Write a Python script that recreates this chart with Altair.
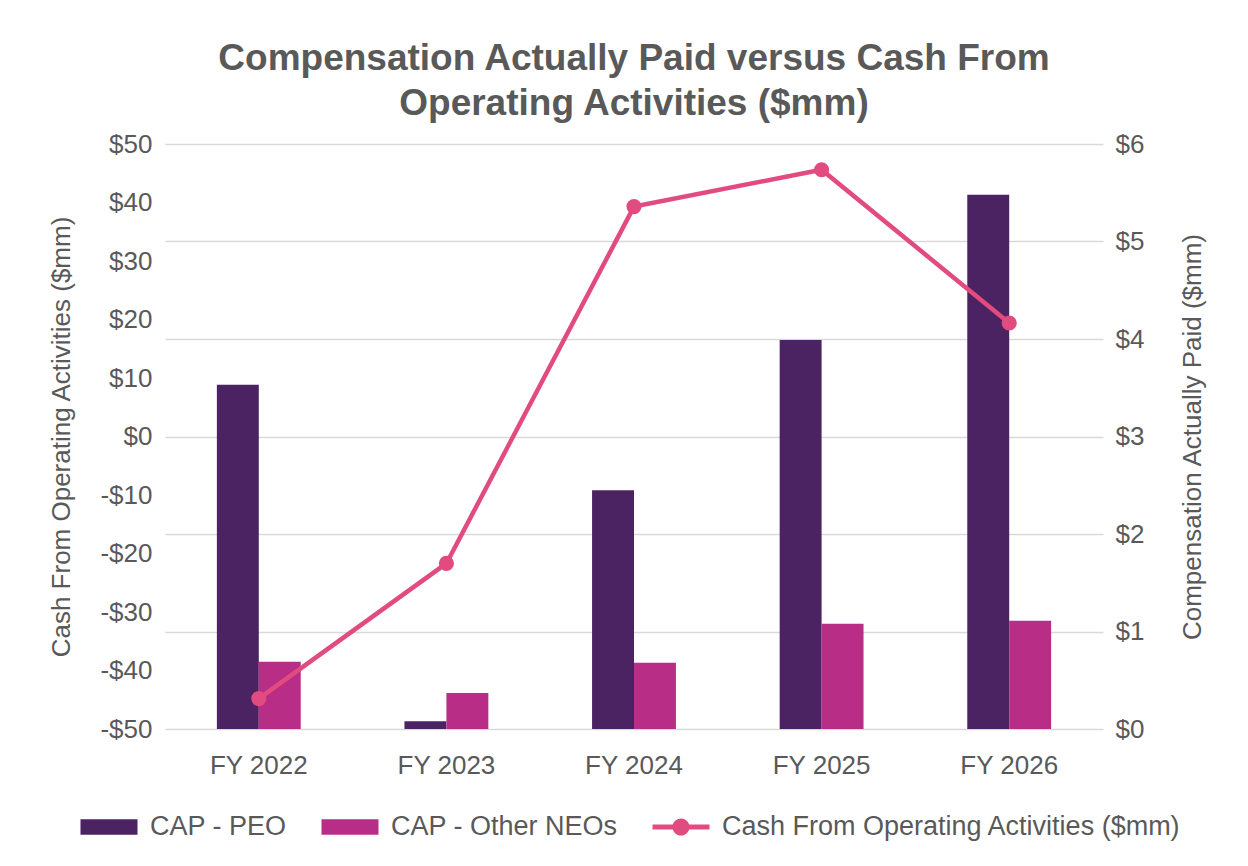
import altair as alt
import pandas as pd

years = ["FY 2022", "FY 2023", "FY 2024", "FY 2025", "FY 2026"]
cap_peo = [3.53, 0.08, 2.45, 3.99, 5.48]
cap_neo = [0.69, 0.37, 0.68, 1.08, 1.11]
cash = [-44.8, -21.7, 39.3, 45.6, 19.4]

series = ["CAP - PEO", "CAP - Other NEOs", "Cash From Operating Activities ($mm)"]
colors = ["#4B2363", "#B82E86", "#E24B7F"]

bars_df = pd.DataFrame(
    [{"year": y, "series": series[0], "value": v} for y, v in zip(years, cap_peo)]
    + [{"year": y, "series": series[1], "value": v} for y, v in zip(years, cap_neo)]
)
line_df = pd.DataFrame({"year": years, "series": series[2], "value": cash})
legend_df = pd.DataFrame({"series": series})

grey = "#595959"
font = "Liberation Sans"
fs = 26

bar_sym = "M-1,-0.27 H1 V0.27 H-1 Z"
line_sym = ("M-1,-0.09 H1 V0.09 H-1 Z "
            "M0.3,0 A0.3,0.3 0 1,1 -0.3,0 A0.3,0.3 0 1,1 0.3,0 Z")

def make_legend():
    return alt.Legend(title=None, orient="none", direction="horizontal",
                      legendX=-85, legendY=654,
                      symbolSize=3250, symbolOpacity=1, symbolStrokeWidth=0,
                      labelFontSize=27, labelColor=grey, labelFont=font,
                      labelOffset=12, columnPadding=34,
                      labelLimit=600)

color_scale = alt.Scale(domain=series, range=colors)
x_enc = alt.X(
    "year:N",
    sort=years,
    scale=alt.Scale(paddingInner=0.553, paddingOuter=0.2765),
    axis=alt.Axis(title=None, labelAngle=0, ticks=False, domain=False,
                  labelFontSize=fs, labelColor=grey, labelFont=font, labelPadding=23),
)

bars = alt.Chart(bars_df).mark_bar().encode(
    x=x_enc,
    xOffset=alt.XOffset("series:N", sort=series[:2]),
    y=alt.Y(
        "value:Q",
        scale=alt.Scale(domain=[0, 6], nice=False),
        axis=alt.Axis(orient="right", title="Compensation Actually Paid ($mm)",
                      values=[0, 1, 2, 3, 4, 5, 6], labelExpr="'$' + datum.value",
                      grid=True, gridColor="#D9D9D9", gridWidth=1.5,
                      ticks=False, domain=False, labelFontSize=fs, labelColor=grey,
                      labelFont=font, labelPadding=12, titleFontSize=fs,
                      titleColor=grey, titleFont=font, titleFontWeight="normal",
                      titleAngle=270, titlePadding=62),
    ),
    color=alt.Color("series:N", scale=color_scale, legend=make_legend()),
)

line = alt.Chart(line_df).mark_line(
    strokeWidth=4.5,
    point=alt.OverlayMarkDef(filled=True, size=230, color=colors[2], opacity=1),
).encode(
    x=x_enc,
    y=alt.Y(
        "value:Q",
        scale=alt.Scale(domain=[-50, 50], nice=False),
        axis=alt.Axis(orient="left", title="Cash From Operating Activities ($mm)",
                      values=list(range(-50, 51, 10)),
                      labelExpr="datum.value < 0 ? '-$' + abs(datum.value) : '$' + datum.value",
                      grid=False, ticks=False, domain=False, labelFontSize=fs,
                      labelColor=grey, labelFont=font, labelPadding=13,
                      titleFontSize=fs, titleColor=grey, titleFont=font,
                      titleFontWeight="normal", titlePadding=25),
    ),
    color=alt.Color("series:N", scale=color_scale, legend=make_legend()),
)

legend_layer = alt.Chart(legend_df).mark_point(filled=True, opacity=0).encode(
    x=alt.value(0),
    y=alt.value(0),
    color=alt.Color("series:N", scale=color_scale, legend=make_legend()),
    shape=alt.Shape(
        "series:N",
        scale=alt.Scale(domain=series, range=[bar_sym, bar_sym, line_sym]),
        legend=make_legend(),
    ),
)

chart = alt.layer(bars, line, legend_layer).resolve_scale(
    y="independent"
).properties(
    width=938,
    height=585,
    title=alt.TitleParams(
        text=["Compensation Actually Paid versus Cash From", "Operating Activities ($mm)"],
        fontSize=37, fontWeight="bold", color=grey, font=font, anchor="middle",
        lineHeight=45, offset=8,
    ),
    padding={"top": 32, "left": 40, "right": 10, "bottom": 10},
    background="white",
).configure_view(stroke=None)

chart.save("out.html", embed_options={"renderer": "svg", "actions": False})
